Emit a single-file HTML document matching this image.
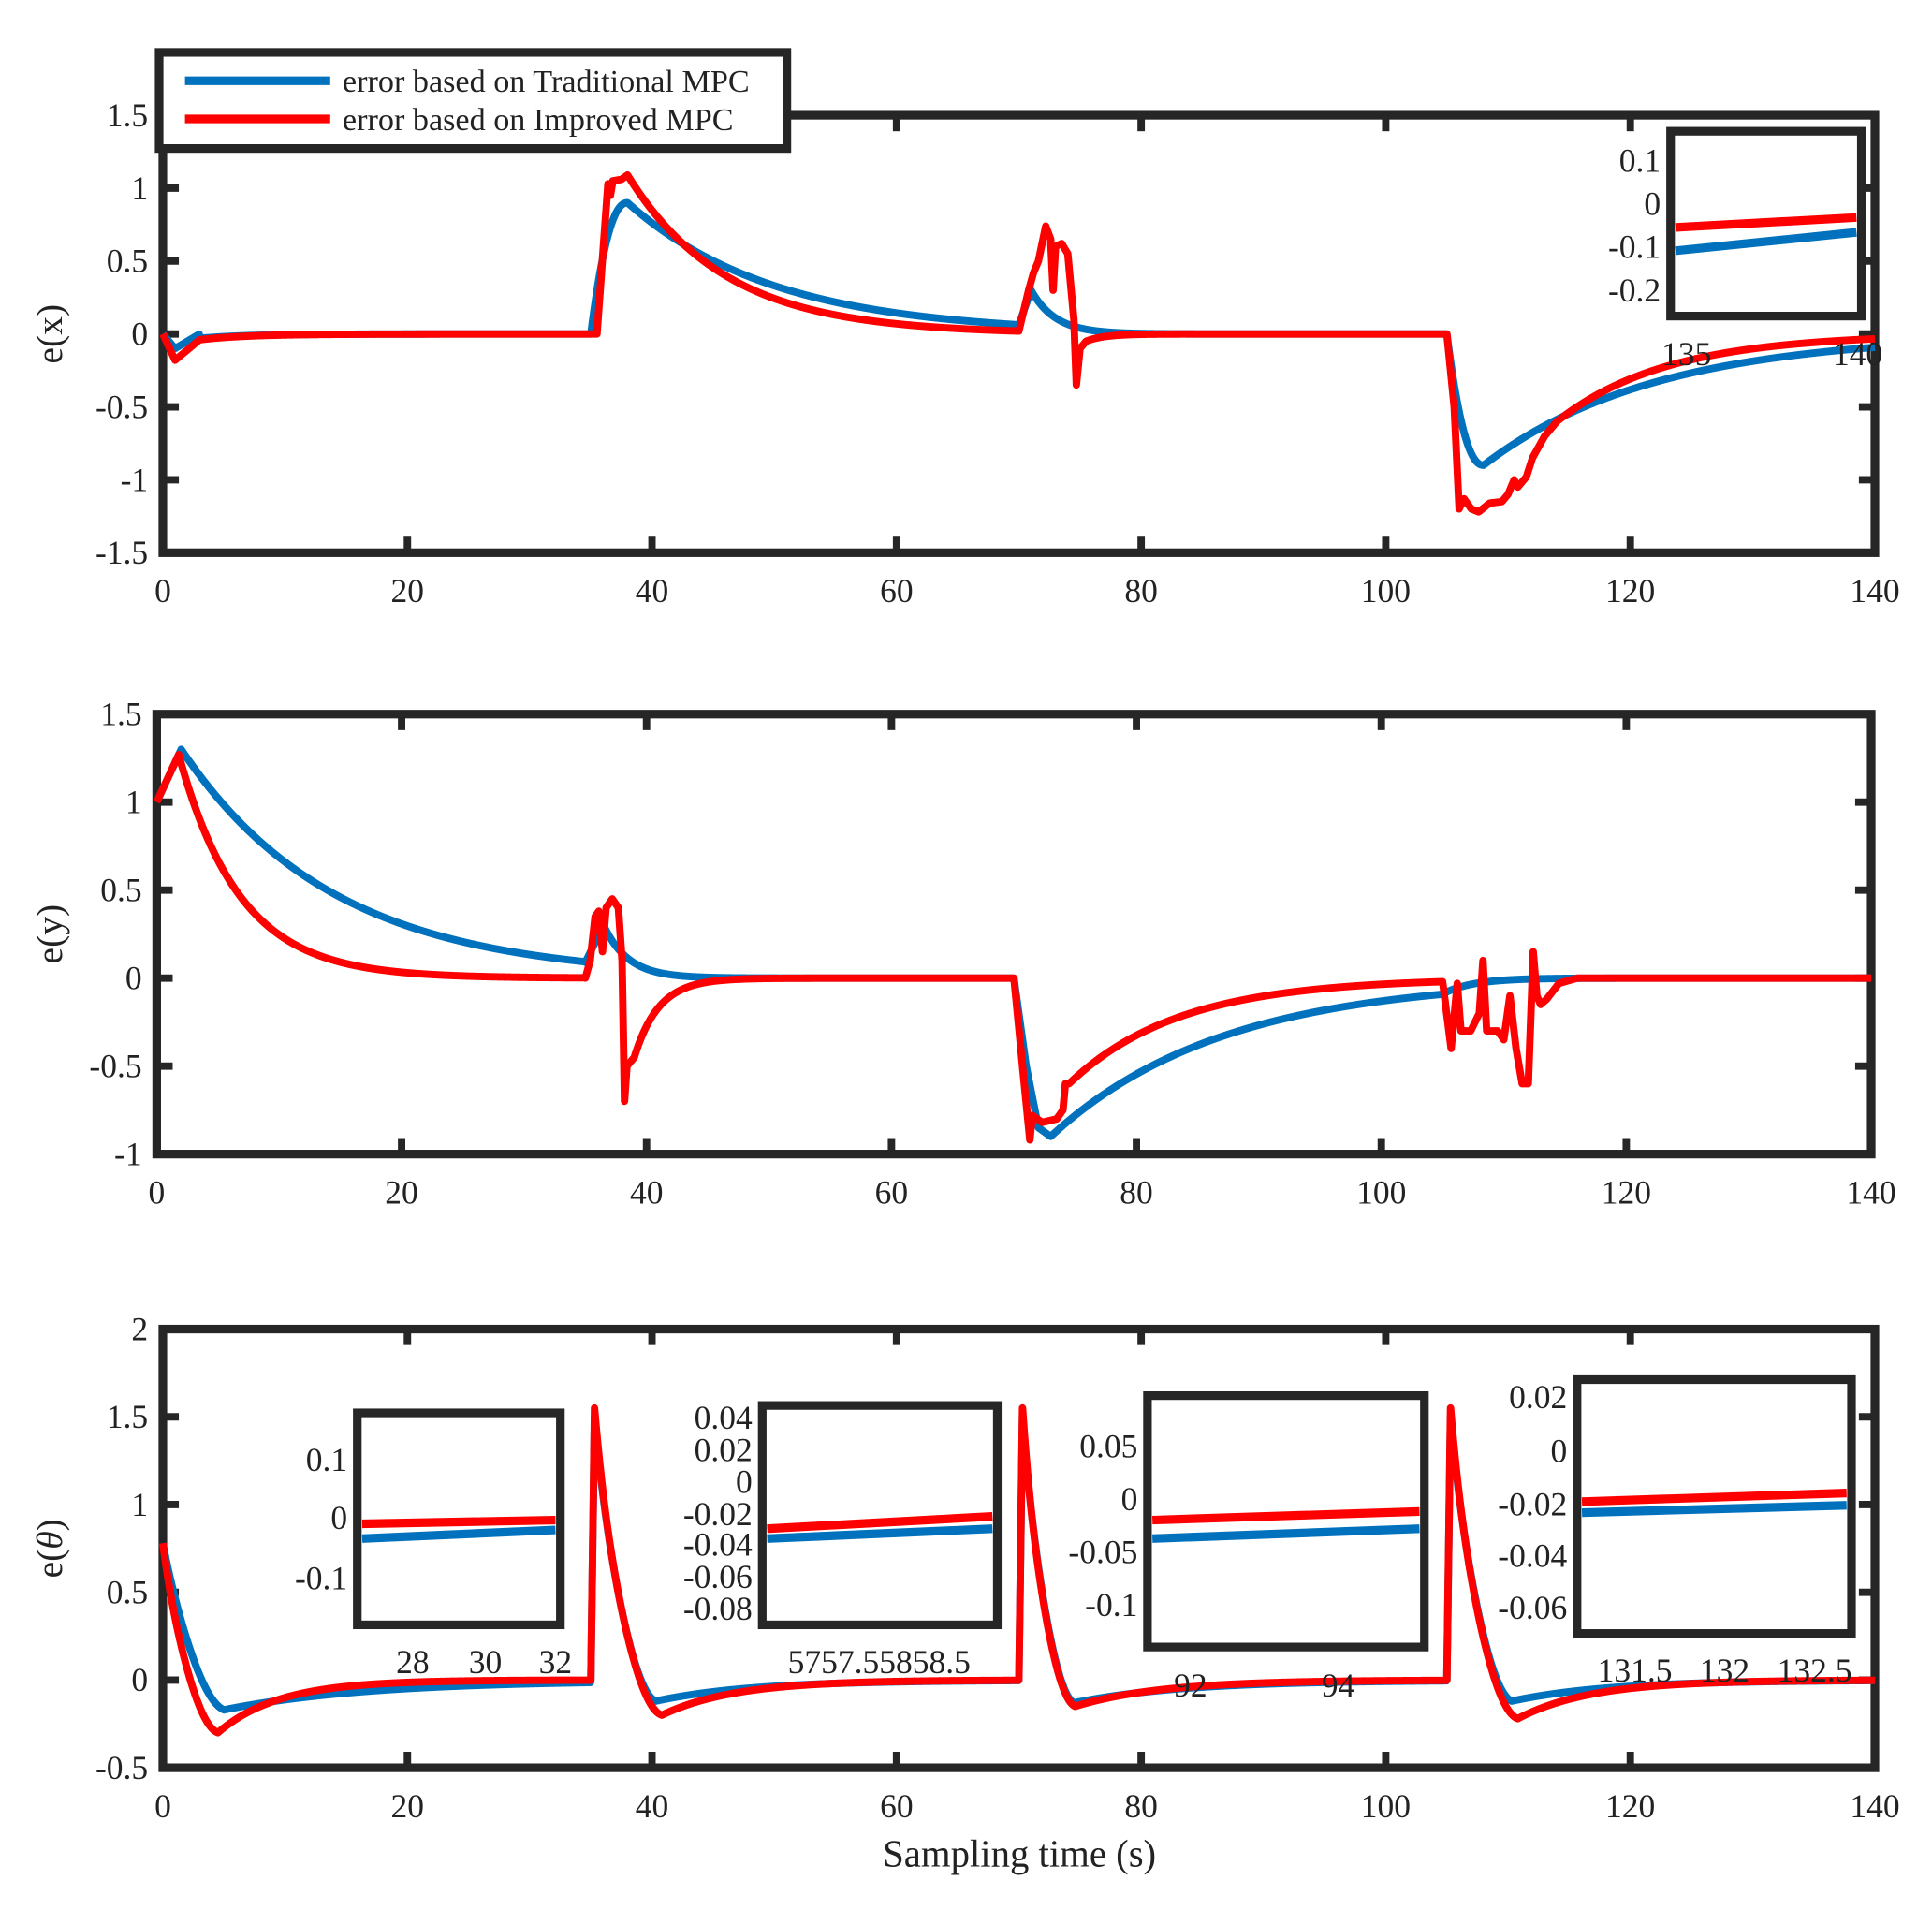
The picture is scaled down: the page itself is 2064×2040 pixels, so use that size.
<!DOCTYPE html>
<html><head><meta charset="utf-8"><style>
html,body{margin:0;padding:0;background:#fff}
svg{display:block}
text{font-family:"Liberation Serif",serif;font-size:27px;fill:#222}
</style></head><body>
<svg id="s" width="2064" height="2040" viewBox="-2.3 -0.5 1569.7 1549.9" preserveAspectRatio="none" xmlns="http://www.w3.org/2000/svg"></svg>
<script>
const S=document.getElementById('s');let h='';
const B='#0072BD',R='#FF0000',K='#262626';
function path(f,t0,t1,X,Y,col,w){let d='';const n=Math.ceil((t1-t0)*40);for(let i=0;i<=n;i++){const t=t0+(t1-t0)*i/n;d+=(i?'L':'M')+X(t).toFixed(2)+' '+Y(f(t)).toFixed(2);}h+=`<path d="${d}" fill="none" stroke="${col}" stroke-width="${w}" stroke-linejoin="round"/>`;}
function pw(pts){return t=>{for(let i=0;i<pts.length-1;i++){if(t<=pts[i+1][0]){const a=pts[i],b=pts[i+1];return a[1]+(b[1]-a[1])*(t-a[0])/(b[0]-a[0]);}}return pts[pts.length-1][1];}}
function axes(L,Rr,T,Bt,y0,y1,yt,ylab,ylx){
 const X=t=>L+t*(Rr-L)/140,Y=v=>Bt-(v-y0)*(Bt-T)/(y1-y0);
 h+=`<rect x="${L}" y="${T}" width="${Rr-L}" height="${Bt-T}" fill="none" stroke="${K}" stroke-width="7"/>`;
 for(let t=0;t<=140;t+=20){const x=X(t);h+=`<line x1="${x}" y1="${Bt}" x2="${x}" y2="${Bt-13}" stroke="${K}" stroke-width="6"/><line x1="${x}" y1="${T}" x2="${x}" y2="${T+13}" stroke="${K}" stroke-width="6"/><text x="${x}" y="${Bt+40}" text-anchor="middle">${t}</text>`;}
 yt.forEach(v=>{const y=Y(v);h+=`<line x1="${L}" y1="${y}" x2="${L+13}" y2="${y}" stroke="${K}" stroke-width="6"/><line x1="${Rr}" y1="${y}" x2="${Rr-13}" y2="${y}" stroke="${K}" stroke-width="6"/><text x="${L-12}" y="${y+9}" text-anchor="end">${v}</text>`;});
 h+=`<text transform="translate(${ylx},${(T+Bt)/2}) rotate(-90)" text-anchor="middle" style="font-size:30px">${ylab}</text>`;
 return [X,Y];
}
function inset(x1,y1,x2,y2,yl,xl,xly,lines){
 h+=`<rect x="${x1}" y="${y1}" width="${x2-x1}" height="${y2-y1}" fill="#fff" stroke="${K}" stroke-width="7"/>`;
 yl.forEach(([v,y])=>{h+=`<text x="${x1-8}" y="${y+9}" text-anchor="end">${v}</text>`;});
 xl.forEach(([v,x])=>{h+=`<text x="${x}" y="${xly+9}" text-anchor="middle">${v}</text>`;});
 lines.forEach(([c,a,b])=>{h+=`<line x1="${x1+4}" y1="${a}" x2="${x2-4}" y2="${b}" stroke="${c}" stroke-width="7"/>`;});
}
const LW=6;
// Plot 1
let [X,Y]=axes(130,1521,93,448,-1.5,1.5,[1.5,1,0.5,0,-0.5,-1,-1.5],'e(x)',48);
const bx=t=>{if(t<35)return t<1?-0.1*t:(t<3?-0.1+0.05*(t-1):-0.03*Math.exp(-(t-3)/4));if(t<38){const u=(t-35)/3;return 0.9*(1-Math.pow(1-u,2.2));}if(t<70)return 0.9*Math.exp(-(t-38)/12);if(t<71)return 0.063+(0.3-0.063)*(t-70);if(t<105)return 0.3*Math.exp(-(t-71)/2);if(t<108){const u=(t-105)/3;return -0.9*(1-Math.pow(1-u,2.2));}return -0.9*Math.exp(-(t-108)/14);};
const rx=t=>{if(t<35)return t<1?-0.18*t:(t<3?-0.18+0.07*(t-1):-0.04*Math.exp(-(t-3)/4));if(t<38)return pw([[35,0],[35.5,0],[36.4,1.03],[36.6,0.95],[36.8,1.05],[37.5,1.06],[38,1.09]])(t);if(t<70)return 1.09*Math.exp(-(t-38)/8);if(t<75.5)return pw([[70,0.02],[70.8,0.3],[71.2,0.42],[71.6,0.5],[72.2,0.74],[72.6,0.65],[72.8,0.3],[73,0.6],[73.5,0.62],[74,0.55],[74.5,0.1],[74.7,-0.35],[75,-0.1],[75.5,-0.05]])(t);if(t<105)return -0.05*Math.exp(-(t-75.5)/1.5);if(t<114)return pw([[105,0],[105.6,-0.5],[106,-1.2],[106.4,-1.13],[107,-1.2],[107.6,-1.22],[108.5,-1.16],[109.5,-1.15],[110,-1.1],[110.5,-1.0],[110.8,-1.05],[111.5,-0.98],[112,-0.85],[113,-0.7],[114,-0.6]])(t);return -0.6*Math.exp(-(t-114)/9);};
path(bx,0,140,X,Y,B,LW);path(rx,0,140,X,Y,R,LW);
inset(1355,106,1510,256,[['0.1',130],['0',165],['-0.1',200],['-0.2',235]],[['135',1368],['140',1507]],287,[[B,203,188],[R,184,176]]);
// legend
h+=`<rect x="127" y="42" width="510" height="78" fill="#fff" stroke="${K}" stroke-width="7"/>`;
h+=`<line x1="148" y1="65" x2="266" y2="65" stroke="${B}" stroke-width="7"/><text x="276" y="74" style="font-size:26px">error based on Traditional MPC</text>`;
h+=`<line x1="148" y1="96" x2="266" y2="96" stroke="${R}" stroke-width="7"/><text x="276" y="105" style="font-size:26px">error based on Improved MPC</text>`;
// Plot 2
[X,Y]=axes(125,1518,579,936,-1,1.5,[1.5,1,0.5,0,-0.5,-1],'e(y)',48);
const by=t=>{if(t<2)return 1+0.15*t;if(t<35)return 1.3*Math.exp(-(t-2)/12.5);if(t<36.5)return 0.09+(0.3-0.09)*(t-35)/1.5;if(t<70)return 0.3*Math.exp(-(t-36.5)/2);if(t<73)return pw([[70,0],[71,-0.5],[72,-0.85],[73,-0.9]])(t);if(t<105)return -0.9*Math.exp(-(t-73)/14);return -0.09*Math.exp(-(t-105)/2.5);};
const ry=t=>{if(t<1.8)return 1+0.15*t;if(t<35)return 1.27*Math.exp(-(t-1.8)/5);if(t<39)return pw([[35,0],[35.4,0.1],[35.8,0.35],[36.1,0.38],[36.4,0.15],[36.7,0.4],[37.2,0.45],[37.7,0.4],[38,0.1],[38.2,-0.7],[38.4,-0.5],[39,-0.45]])(t);if(t<70)return -0.45*Math.exp(-(t-39)/2);if(t<74.5)return pw([[70,0],[70.7,-0.5],[71.3,-0.92],[71.5,-0.78],[72.3,-0.82],[73.5,-0.8],[74,-0.75],[74.2,-0.6],[74.5,-0.6]])(t);if(t<105)return -0.6*Math.exp(-(t-74.5)/9);if(t<116)return pw([[105,-0.02],[105.7,-0.4],[106.2,-0.03],[106.5,-0.3],[107.3,-0.3],[108,-0.2],[108.3,0.1],[108.6,-0.3],[109.5,-0.3],[110,-0.35],[110.5,-0.1],[111,-0.4],[111.5,-0.6],[112,-0.6],[112.4,0.15],[112.7,-0.1],[113,-0.15],[113.5,-0.12],[114.5,-0.03],[116,0]])(t);return 0;};
path(by,0,140,X,Y,B,LW);path(ry,0,140,X,Y,R,LW);
// Plot 3
[X,Y]=axes(130,1521,1078,1434,-0.5,2,[2,1.5,1,0.5,0,-0.5],'e(<tspan font-style="italic">θ</tspan>)',48);
function cyc(p,mn,tm,tau,first,sh){return (t,s)=>{const u=t-s;let pk=first?0:0.3;if(u<pk)return p*u/pk;const v=u-pk;if(v<tm){const k=(1-Math.exp(-sh*v/tm))/(1-Math.exp(-sh));const k2=(1-Math.cos(Math.PI*v/tm))/2;const kk=0.7*k+0.3*k2;return p+(mn-p)*kk;}return mn*Math.exp(-(v-tm)/tau);};}
const bc=[cyc(0.78,-0.17,5,12,1,2.5),cyc(1.5,-0.12,5,8,0,3.2),cyc(1.5,-0.13,4.2,9,0,3.2),cyc(1.5,-0.12,5,8,0,3.2)];
const rc=[cyc(0.78,-0.3,4.5,5,1,3),cyc(1.55,-0.2,5.5,6,0,3.6),cyc(1.55,-0.15,4.3,7,0,3.6),cyc(1.55,-0.22,5.5,6,0,3.6)];
const bt=t=>{const i=Math.min(3,Math.floor(t/35));return bc[i](t,i*35);};
const rt=t=>{const i=Math.min(3,Math.floor(t/35));return rc[i](t,i*35);};
path(bt,0,140,X,Y,B,LW);path(rt,0,140,X,Y,R,LW);
inset(288,1146,453,1318,[['0.1',1184],['0',1231],['-0.1',1280]],[['28',333],['30',392],['32',449]],1348,[[B,1248,1241],[R,1236,1233]]);
inset(617,1140,808,1318,[['0.04',1150],['0.02',1176],['0',1202],['-0.02',1228],['-0.04',1253],['-0.06',1279],['-0.08',1305]],[['5757.55858.5',712]],1348,[[B,1248,1240],[R,1240,1230]]);
inset(930,1132,1155,1336,[['0.05',1173],['0',1216],['-0.05',1259],['-0.1',1302]],[['92',965],['94',1085]],1367,[[B,1248,1240],[R,1233,1226]]);
inset(1279,1119,1502,1325,[['0.02',1133],['0',1177],['-0.02',1220],['-0.04',1262],['-0.06',1304]],[['131.5',1326],['132',1399],['132.5',1472]],1355,[[B,1227,1221],[R,1218,1211]]);
h+=`<text x="826" y="1514" text-anchor="middle" style="font-size:31px">Sampling time (s)</text>`;
S.innerHTML=h;
</script>
</body></html>
